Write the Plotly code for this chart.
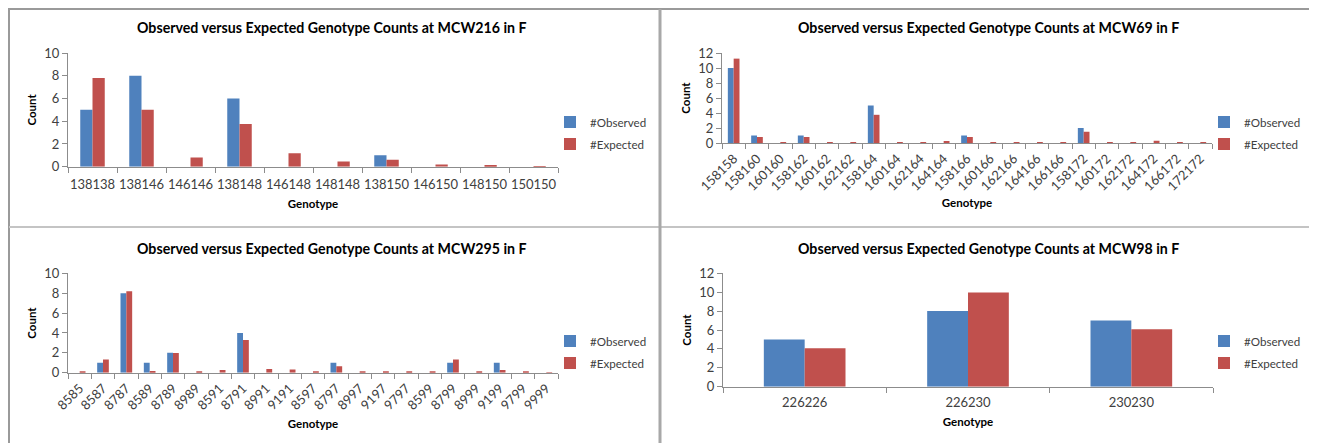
import plotly.graph_objects as go

# The page body has an 8 px default margin, so the figure is drawn 8 px smaller
OFF = 8
W, H = 1317 - OFF, 443 - OFF

# ---------------- data ----------------
mcw216_genotypes = ["138138", "138146", "146146", "138148", "146148", "148148",
                    "138150", "146150", "148150", "150150"]
mcw216_observed = [5, 8, 0, 6, 0, 0, 1, 0, 0, 0]
mcw216_expected = [7.8, 5.0, 0.8, 3.75, 1.18, 0.45, 0.62, 0.2, 0.15, 0.02]

mcw69_genotypes = ["158158", "158160", "160160", "158162", "160162", "162162",
                   "158164", "160164", "162164", "164164", "158166", "160166",
                   "162166", "164166", "166166", "158172", "160172", "162172",
                   "164172", "166172", "172172"]
mcw69_observed = [10, 1, 0, 1, 0, 0, 5, 0, 0, 0, 1, 0, 0, 0, 0, 2, 0, 0, 0, 0, 0]
mcw69_expected = [11.25, 0.8, 0.1, 0.8, 0.1, 0.1, 3.76, 0.1, 0.1, 0.27, 0.8, 0.1,
                  0.1, 0.05, 0.05, 1.5, 0.1, 0.1, 0.3, 0.1, 0.05]

mcw295_genotypes = ["8585", "8587", "8787", "8589", "8789", "8989", "8591", "8791",
                    "8991", "9191", "8597", "8797", "8997", "9197", "9797", "8599",
                    "8799", "8999", "9199", "9799", "9999"]
mcw295_observed = [0, 1, 8, 1, 2, 0, 0, 4, 0, 0, 0, 1, 0, 0, 0, 0, 1, 0, 1, 0, 0]
mcw295_expected = [0.05, 1.34, 8.2, 0.17, 1.98, 0.15, 0.27, 3.3, 0.37, 0.33, 0.07,
                   0.64, 0.05, 0.13, 0.05, 0.05, 1.34, 0.13, 0.27, 0.05, 0.03]

mcw98_genotypes = ["226226", "226230", "230230"]
mcw98_observed = [5, 8, 7]
mcw98_expected = [4.06, 9.96, 6.08]

series_names = ["#Observed", "#Expected"]
titles = ["Observed versus Expected Genotype Counts at MCW216 in F",
          "Observed versus Expected Genotype Counts at MCW69 in F",
          "Observed versus Expected Genotype Counts at MCW295 in F",
          "Observed versus Expected Genotype Counts at MCW98 in F"]
y_title = "Count"
x_title = "Genotype"

BLUE = "#4F81BD"
RED = "#C0504D"
AXIS = "#8C8C8C"
TXT = "#404040"
FONT = "Lato"


def px(x):
    return (x - OFF) / W


def py(y):
    return 1 - (y - OFF) / H


panels = [
    dict(g=mcw216_genotypes, o=mcw216_observed, e=mcw216_expected, ymax=10,
         xd=(68, 558), yd=(166.7, 53), angle=0, leg=(550, 133), tit=(332, 28),
         xso=8, tso=6),
    dict(g=mcw69_genotypes, o=mcw69_observed, e=mcw69_expected, ymax=12,
         xd=(722, 1212), yd=(143, 53), angle=-45, leg=(1204, 133), tit=(988, 28),
         xso=6, tso=2),
    dict(g=mcw295_genotypes, o=mcw295_observed, e=mcw295_expected, ymax=10,
         xd=(68, 558), yd=(372.7, 273.3), angle=-45, leg=(550, 352), tit=(332, 248),
         xso=8, tso=2),
    dict(g=mcw98_genotypes, o=mcw98_observed, e=mcw98_expected, ymax=12,
         xd=(723, 1213), yd=(386.7, 273.3), angle=0, leg=(1204, 352), tit=(988, 248),
         xso=8, tso=4),
]

fig = go.Figure()
annotations = []
layout_axes = {}

for i, p in enumerate(panels):
    n = i + 1
    xa = "x" if n == 1 else f"x{n}"
    ya = "y" if n == 1 else f"y{n}"
    leg = "legend" if n == 1 else f"legend{n}"
    for name, vals, col in [(series_names[0], p["o"], BLUE), (series_names[1], p["e"], RED)]:
        fig.add_trace(go.Bar(
            x=p["g"], y=vals, name=name, marker=dict(color=col, line=dict(width=0)),
            xaxis=xa, yaxis=ya, legend=leg, legendgroup=f"{name}{n}",
        ))
    xkey = "xaxis" if n == 1 else f"xaxis{n}"
    ykey = "yaxis" if n == 1 else f"yaxis{n}"
    layout_axes[xkey] = dict(
        domain=[px(p["xd"][0]), px(p["xd"][1])], anchor=ya, type="category",
        showline=True, linecolor=AXIS, linewidth=1, ticks="outside", tickson="boundaries",
        ticklen=5, tickcolor=AXIS, showgrid=False, tickangle=p["angle"],
        ticklabelstandoff=p["tso"],
        tickfont=dict(family=FONT, size=13, color=TXT), automargin=False,
        title=dict(text=f"<b>{x_title}</b>", font=dict(family=FONT, size=11.5, color="#000"),
                   standoff=p["xso"]),
    )
    layout_axes[ykey] = dict(
        domain=[py(p["yd"][0]), py(p["yd"][1])], anchor=xa, range=[0, p["ymax"]],
        dtick=2, showline=True, linecolor=AXIS, linewidth=1, ticks="outside",
        ticklen=5, tickcolor=AXIS, showgrid=False, zeroline=False,
        tickfont=dict(family=FONT, size=13, color=TXT), automargin=False,
        title=dict(text=f"<b>{y_title}</b>", font=dict(family=FONT, size=11.5, color="#000"),
                   standoff=5),
    )
    layout_axes[leg] = dict(
        x=px(p["leg"][0]), y=py(p["leg"][1]), xanchor="left", yanchor="middle",
        font=dict(family=FONT, size=11.6, color=TXT), bgcolor="rgba(0,0,0,0)",
        tracegroupgap=3, traceorder="grouped", itemwidth=30,
    )
    annotations.append(dict(
        text=f"<b>{titles[i]}</b>", x=px(p["tit"][0]), y=py(p["tit"][1]),
        xref="paper", yref="paper", showarrow=False, xanchor="center", yanchor="middle",
        font=dict(family=FONT, size=14.2, color="#000"),
    ))

shapes = [
    dict(type="line", xref="paper", yref="paper", x0=px(9), x1=px(9), y0=py(9), y1=0,
         line=dict(color="#9A9A9A", width=2)),
    dict(type="line", xref="paper", yref="paper", x0=px(8), x1=px(1314), y0=py(9), y1=py(9),
         line=dict(color="#9A9A9A", width=2)),
    dict(type="line", xref="paper", yref="paper", x0=px(1314), x1=px(1314), y0=py(8), y1=0,
         line=dict(color="#9A9A9A", width=2)),
    dict(type="line", xref="paper", yref="paper", x0=px(9), x1=px(1314), y0=py(227), y1=py(227),
         line=dict(color="#C4C4C4", width=2)),
    dict(type="line", xref="paper", yref="paper", x0=px(660), x1=px(660), y0=py(9), y1=0,
         line=dict(color="#A8A8A8", width=3)),
]

fig.update_layout(
    width=W, height=H, margin=dict(l=0, r=0, t=0, b=0),
    paper_bgcolor="white", plot_bgcolor="white",
    barmode="group", bargap=0.5, bargroupgap=0,
    font=dict(family=FONT, color=TXT),
    annotations=annotations, shapes=shapes, showlegend=True,
    **layout_axes,
)

fig.write_html("out.html")
